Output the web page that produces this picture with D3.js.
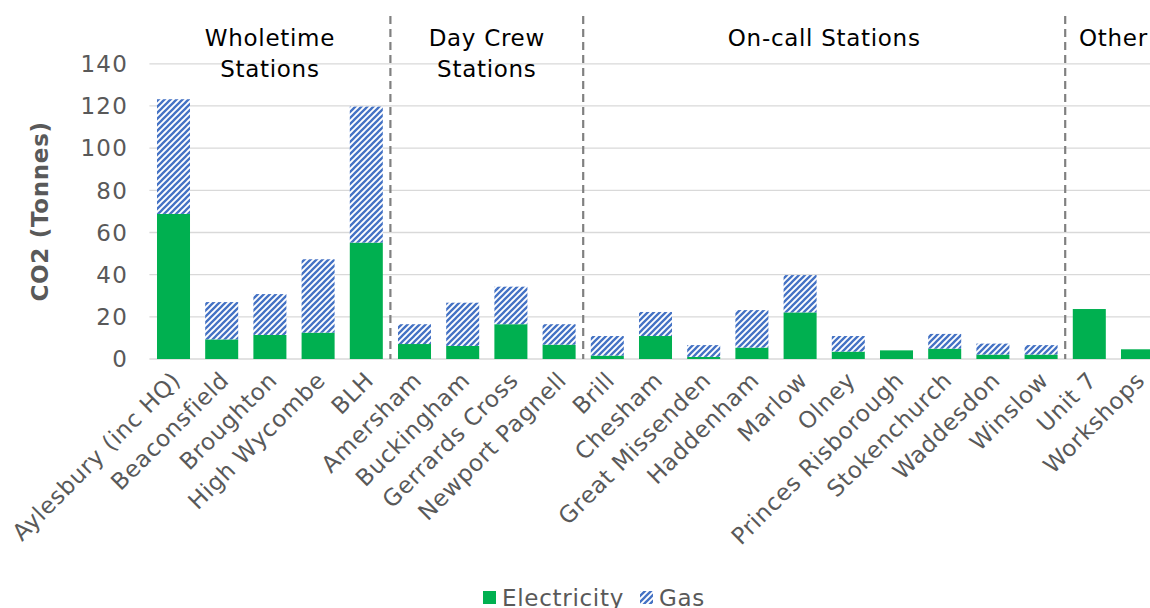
<!DOCTYPE html>
<html>
<head>
<meta charset="utf-8">
<script src="https://cdn.jsdelivr.net/npm/d3@7"></script>
<style>
  html, body { margin: 0; padding: 0; background: #fff; }
  svg { display: block; font-family: 'DejaVu Sans', Verdana, sans-serif; }
  svg text { letter-spacing: 0.7px; }
</style>
</head>
<body>
<svg id="chart" width="1150" height="608"></svg>
<script>
const stations = [
  'Aylesbury (inc HQ)', 'Beaconsfield', 'Broughton', 'High Wycombe', 'BLH',
  'Amersham', 'Buckingham', 'Gerrards Cross', 'Newport Pagnell',
  'Brill', 'Chesham', 'Great Missenden', 'Haddenham', 'Marlow', 'Olney',
  'Princes Risborough', 'Stokenchurch', 'Waddesdon', 'Winslow',
  'Unit 7', 'Workshops'
]
const electricity = [68.8, 9.3, 11.4, 12.5, 55.2, 7.1, 6.2, 16.5, 6.8, 1.6, 10.9, 1.0, 5.4, 22.1, 3.5, 4.1, 4.9, 2.1, 2.1, 23.7, 4.6]
const gas = [54.4, 17.7, 19.4, 34.8, 64.5, 9.4, 20.5, 17.8, 9.7, 9.3, 11.4, 5.6, 17.8, 17.7, 7.4, 0, 7.0, 5.2, 4.5, 0, 0]
const yTicks = [0, 20, 40, 60, 80, 100, 120, 140]

const groups = [
  { lines: ['Wholetime', 'Stations'], from: 'Aylesbury (inc HQ)', to: 'BLH' },
  { lines: ['Day Crew', 'Stations'], from: 'Amersham', to: 'Newport Pagnell' },
  { lines: ['On-call Stations'], from: 'Brill', to: 'Winslow' },
  { lines: ['Other'], from: 'Unit 7', to: 'Workshops' }
]

const GREEN = '#00b050'
const BLUE = '#4472c4'
const TEXT = '#595959'
const FS = 23

const svg = d3.select('#chart')

const pat = svg.append('defs').append('pattern')
  .attr('id', 'hatch')
  .attr('patternUnits', 'userSpaceOnUse')
  .attr('width', 6)
  .attr('height', 6)
pat.append('rect').attr('width', 6).attr('height', 6).attr('fill', '#fff')
pat.append('path')
  .attr('d', 'M-1.5,1.5 l3,-3 M0,6 l6,-6 M4.5,7.5 l3,-3')
  .attr('stroke', BLUE)
  .attr('stroke-width', 2.3)

const x = d3.scaleBand()
  .domain(stations)
  .range([149.4, 1161.6])
  .paddingInner(0.315)
  .paddingOuter(0.1575)

const y = d3.scaleLinear().domain([0, 140]).range([359, 63.8])

const step = x.step()
const gap = x.paddingInner() * step / 2
const groupLeft = s => x(s) - gap
const groupRight = s => x(s) + x.bandwidth() + gap

// gridlines
svg.append('g')
  .selectAll('line')
  .data(yTicks)
  .join('line')
  .attr('x1', 149.4)
  .attr('x2', 1161.6)
  .attr('y1', d => y(d))
  .attr('y2', d => y(d))
  .attr('stroke', '#d9d9d9')
  .attr('stroke-width', 1.3)

// y axis labels
svg.append('g')
  .selectAll('text')
  .data(yTicks)
  .join('text')
  .attr('x', 128)
  .attr('y', d => y(d))
  .attr('dy', '0.36em')
  .attr('text-anchor', 'end')
  .attr('font-size', FS)
  .style('letter-spacing', '1.2px')
  .attr('fill', TEXT)
  .text(d => d)

svg.append('text')
  .attr('transform', `translate(48,${y(70)}) rotate(-90)`)
  .attr('text-anchor', 'middle')
  .attr('font-size', FS)
  .attr('font-weight', 'bold')
  .attr('fill', TEXT)
  .text('CO2 (Tonnes)')

// bars
const rows = stations.map((s, i) => ({ s, e: electricity[i], g: gas[i] }))
const bars = svg.append('g')
bars.selectAll('rect.elec')
  .data(rows)
  .join('rect')
  .attr('class', 'elec')
  .attr('x', d => x(d.s))
  .attr('width', x.bandwidth())
  .attr('y', d => y(d.e))
  .attr('height', d => y(0) - y(d.e))
  .attr('fill', GREEN)
bars.selectAll('rect.gas')
  .data(rows.filter(d => d.g > 0))
  .join('rect')
  .attr('class', 'gas')
  .attr('x', d => x(d.s))
  .attr('width', x.bandwidth())
  .attr('y', d => y(d.e + d.g))
  .attr('height', d => y(d.e) - y(d.e + d.g))
  .attr('fill', 'url(#hatch)')

// group dividers
svg.append('g')
  .selectAll('line')
  .data(groups.slice(1))
  .join('line')
  .attr('x1', d => groupLeft(d.from))
  .attr('x2', d => groupLeft(d.from))
  .attr('y1', 16)
  .attr('y2', 359)
  .attr('stroke', '#808080')
  .attr('stroke-width', 2.2)
  .attr('stroke-dasharray', '8,5')

// group labels
const gl = svg.append('g')
groups.forEach(g => {
  const cx = (groupLeft(g.from) + groupRight(g.to)) / 2
  g.lines.forEach((ln, i) => {
    gl.append('text')
      .attr('x', cx)
      .attr('y', 46 + i * 31)
      .attr('text-anchor', 'middle')
      .attr('font-size', FS)
      .attr('fill', '#000')
      .text(ln)
  })
})

// x labels
svg.append('g')
  .selectAll('text')
  .data(stations)
  .join('text')
  .attr('transform', d => `translate(${x(d) + x.bandwidth() / 2 + 3},${376}) rotate(-45)`)
  .attr('text-anchor', 'end')
  .attr('dy', '0.35em')
  .attr('font-size', FS)
  .attr('fill', TEXT)
  .text(d => d)

// legend
const legend = svg.append('g').attr('transform', 'translate(483,591)')
legend.append('rect').attr('width', 13).attr('height', 13).attr('fill', GREEN)
legend.append('text').attr('x', 19).attr('y', 15).attr('font-size', FS).attr('fill', TEXT).text('Electricity')
legend.append('rect').attr('x', 157).attr('width', 13).attr('height', 13).attr('fill', 'url(#hatch)')
legend.append('text').attr('x', 176).attr('y', 15).attr('font-size', FS).attr('fill', TEXT).text('Gas')
</script>
</body>
</html>
